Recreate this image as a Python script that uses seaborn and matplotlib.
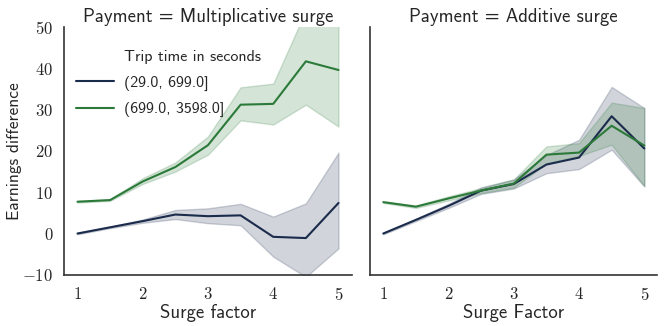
import matplotlib
matplotlib.use("Agg")
import matplotlib.pyplot as plt
from matplotlib.lines import Line2D
from matplotlib.ticker import FuncFormatter
import seaborn as sns
import pandas as pd

surge = [1.0, 1.5, 2.0, 2.5, 3.0, 3.5, 4.0, 4.5, 5.0]
payments = ["Multiplicative surge", "Additive surge"]
trip_bins = ["(29.0, 699.0]", "(699.0, 3598.0]"]

# mean line and lower / upper edge of the confidence band
mult_short = [0.0, 1.5, 3.0, 4.6, 4.2, 4.4, -0.8, -1.1, 7.4]
mult_short_lo = [-0.2, 1.3, 2.6, 3.5, 2.5, 2.0, -5.6, -10.5, -3.6]
mult_short_hi = [0.2, 1.7, 3.4, 5.7, 6.1, 7.2, 4.1, 7.3, 19.6]
mult_long = [7.7, 8.1, 12.6, 16.1, 21.4, 31.2, 31.4, 41.7, 39.6]
mult_long_lo = [7.5, 7.9, 12.0, 15.0, 19.1, 27.4, 26.4, 31.2, 25.9]
mult_long_hi = [7.9, 8.3, 13.4, 17.2, 23.5, 35.4, 36.3, 54.0, 55.0]

add_short = [0.0, 3.3, 6.7, 10.4, 12.0, 16.7, 18.4, 28.4, 20.6]
add_short_lo = [-0.2, 3.0, 6.2, 9.6, 10.9, 14.6, 15.6, 20.3, 11.4]
add_short_hi = [0.2, 3.6, 7.2, 11.2, 13.1, 19.0, 22.7, 35.5, 30.4]
add_long = [7.6, 6.5, 8.5, 10.4, 12.1, 19.1, 19.6, 26.1, 21.3]
add_long_lo = [7.4, 6.2, 8.0, 9.8, 11.1, 17.0, 18.8, 21.5, 11.5]
add_long_hi = [7.8, 6.8, 9.0, 11.0, 13.1, 21.1, 21.9, 31.7, 30.4]

series = {
    ("Multiplicative surge", trip_bins[0]): (mult_short_lo, mult_short, mult_short_hi),
    ("Multiplicative surge", trip_bins[1]): (mult_long_lo, mult_long, mult_long_hi),
    ("Additive surge", trip_bins[0]): (add_short_lo, add_short, add_short_hi),
    ("Additive surge", trip_bins[1]): (add_long_lo, add_long, add_long_hi),
}

# long form: three rows per point (lower, mean, upper); median gives the line,
# the 100% percentile interval gives the band
rows = []
for (pay, trip), (lo, mid, hi) in series.items():
    for i, x in enumerate(surge):
        for v in (lo[i], mid[i], hi[i]):
            rows.append((pay, trip, x, v))
df = pd.DataFrame(rows, columns=["Payment", "Trip time in seconds", "surge", "diff"])

sns.set_theme(style="white")
plt.rcParams["font.family"] = ["cmss10", "DejaVu Sans"]
plt.rcParams["mathtext.fontset"] = "cm"
plt.rcParams["axes.unicode_minus"] = True

colors = {trip_bins[0]: "#1b2b4b", trip_bins[1]: "#2c7a3a"}
# serif (Computer Modern) tick numbers
cm_fmt = FuncFormatter(lambda v, pos: f"${v:g}$")

fig, axes = plt.subplots(1, 2, figsize=(6.64, 3.26), dpi=100, sharey=True)
fig.subplots_adjust(left=0.097, right=0.99, bottom=0.157, top=0.917, wspace=0.065)

xlabels = ["Surge factor", "Surge Factor"]
for ax, pay, xl in zip(axes, payments, xlabels):
    sub = df[df["Payment"] == pay]
    sns.lineplot(data=sub, x="surge", y="diff", hue="Trip time in seconds",
                 palette=colors, estimator="median", errorbar=("pi", 100),
                 linewidth=1.5, legend=False, ax=ax)
    ax.set_title(f"Payment = {pay}", fontsize=13.5, pad=4)
    ax.set_xlabel(xl, fontsize=13.5, labelpad=1)
    ax.set_ylim(-10, 50)
    ax.set_xticks([1, 2, 3, 4, 5])
    ax.xaxis.set_major_formatter(cm_fmt)
    ax.yaxis.set_major_formatter(cm_fmt)
    ax.tick_params(axis="both", labelsize=12, pad=2)
    for s in ["left", "bottom"]:
        ax.spines[s].set_color("#333333")
        ax.spines[s].set_linewidth(1.2)

axes[0].set_ylabel("Earnings difference", fontsize=12.5, labelpad=0)
axes[1].set_ylabel("")
axes[1].tick_params(axis="y", labelleft=False)
sns.despine(fig=fig)

handles = [Line2D([], [], color="none")] + [Line2D([], [], color=colors[t], lw=1.5) for t in trip_bins]
labels = ["Trip time in seconds"] + trip_bins
axes[0].legend(handles, labels, loc="upper left", frameon=False, fontsize=11.5,
               bbox_to_anchor=(0.0, 0.952), handlelength=2.4, handletextpad=0.6,
               labelspacing=0.7, borderaxespad=0.3)

fig.savefig("out.png", dpi=100)
